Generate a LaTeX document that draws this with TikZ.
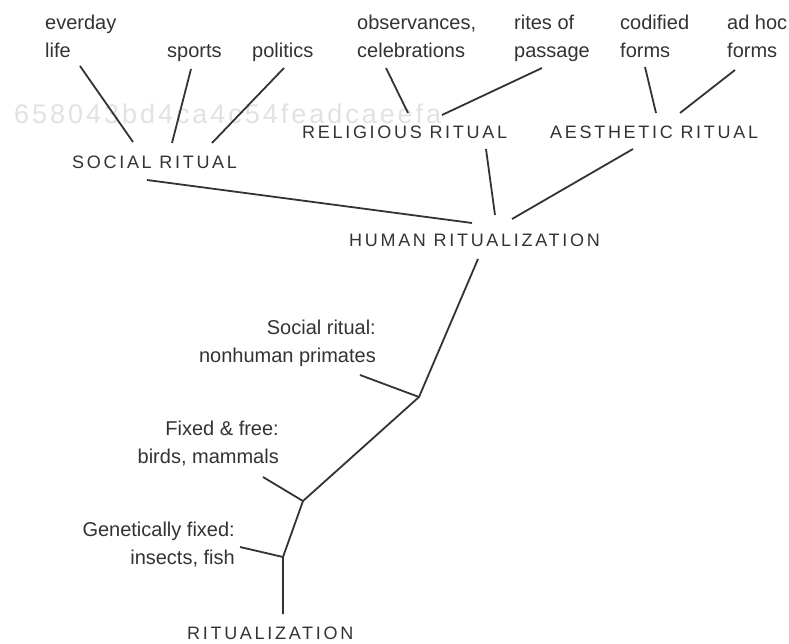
\documentclass[tikz,border=0pt]{standalone}
\usepackage{fontspec}
\setmainfont{Liberation Sans}
\newfontfamily\capsfont[LetterSpace=15]{Liberation Sans}
\newfontfamily\wmfont[LetterSpace=11]{Liberation Sans}
\definecolor{ink}{HTML}{333333}
\definecolor{wm}{HTML}{E2E2E2}
\begin{document}
\begin{tikzpicture}[x=1pt,y=-1pt,
  lbl/.style={inner sep=0pt, font=\fontsize{20}{28}\selectfont, text=ink},
  caps/.style={inner sep=0pt, font=\capsfont\fontsize{18}{22}\selectfont, text=ink},
  conn/.style={draw=ink, line width=1.8pt}]
\useasboundingbox[fill=white] (0,0) rectangle (789,644);
% watermark
\node[inner sep=0pt, anchor=base west, font=\wmfont\fontsize{27}{30}\selectfont, text=wm] (wmark) at (14,124) {658043bd4ca4c54feadcaeefa};
% top labels (base anchor = baseline of last line)
\node[lbl, align=left, anchor=base west] (everyday) at (45,58) {everday\\life};
\node[lbl, anchor=base west] (sports) at (167,58) {sports};
\node[lbl, anchor=base west] (politics) at (252,58) {politics};
\node[lbl, align=left, anchor=base west] (observ) at (357,58) {observances,\\celebrations};
\node[lbl, align=left, anchor=base west] (rites) at (514,58) {rites of\\passage};
\node[lbl, align=left, anchor=base west] (codified) at (620,58) {codified\\forms};
\node[lbl, align=left, anchor=base west] (adhoc) at (727,58) {ad hoc\\forms};
% ritual categories
\node[caps, anchor=base west] (religious) at (302,139) {RELIGIOUS RITUAL};
\node[caps, anchor=base west] (aesthetic) at (550,139) {AESTHETIC RITUAL};
\node[caps, anchor=base west] (social) at (72,169) {SOCIAL RITUAL};
\node[caps, anchor=base west] (human) at (349,247) {HUMAN RITUALIZATION};
\node[caps, anchor=base west] (ritualization) at (187,639) {RITUALIZATION};
% side labels
\node[lbl, align=right, anchor=base east] (primates) at (376,362) {Social ritual:\\nonhuman primates};
\node[lbl, align=right, anchor=base east] (birds) at (279,463) {Fixed \& free:\\birds, mammals};
\node[lbl, align=right, anchor=base east] (insects) at (235,564) {Genetically fixed:\\insects, fish};
% connector points
\coordinate (e1) at (80,66);   \coordinate (e2) at (133,142);
\coordinate (s1) at (191,69);  \coordinate (s2) at (172,143);
\coordinate (p1) at (284,68);  \coordinate (p2) at (212,143);
\coordinate (o1) at (386,68);  \coordinate (o2) at (408,113);
\coordinate (r1) at (542,68);  \coordinate (r2) at (442,115);
\coordinate (cf1) at (645,67); \coordinate (cf2) at (656,113);
\coordinate (ah1) at (735,70); \coordinate (ah2) at (680,113);
\coordinate (rel1) at (486,149); \coordinate (rel2) at (495,215);
\coordinate (aes1) at (633,149); \coordinate (aes2) at (512,219);
\coordinate (soc1) at (147,180); \coordinate (soc2) at (472,223);
\coordinate (hum1) at (478,259);
\coordinate (j1) at (419,397);
\coordinate (prim1) at (360,375);
\coordinate (j2) at (303,501);
\coordinate (bird1) at (263,477);
\coordinate (j3) at (283,557);
\coordinate (ins1) at (240,547);
\coordinate (root) at (283,614);
% connectors
\draw[conn] (e1) -- (e2);
\draw[conn] (s1) -- (s2);
\draw[conn] (p1) -- (p2);
\draw[conn] (o1) -- (o2);
\draw[conn] (r1) -- (r2);
\draw[conn] (cf1) -- (cf2);
\draw[conn] (ah1) -- (ah2);
\draw[conn] (rel1) -- (rel2);
\draw[conn] (aes1) -- (aes2);
\draw[conn] (soc1) -- (soc2);
\draw[conn] (hum1) -- (j1) -- (j2) -- (j3) -- (root);
\draw[conn] (prim1) -- (j1);
\draw[conn] (bird1) -- (j2);
\draw[conn] (ins1) -- (j3);
\end{tikzpicture}
\end{document}
